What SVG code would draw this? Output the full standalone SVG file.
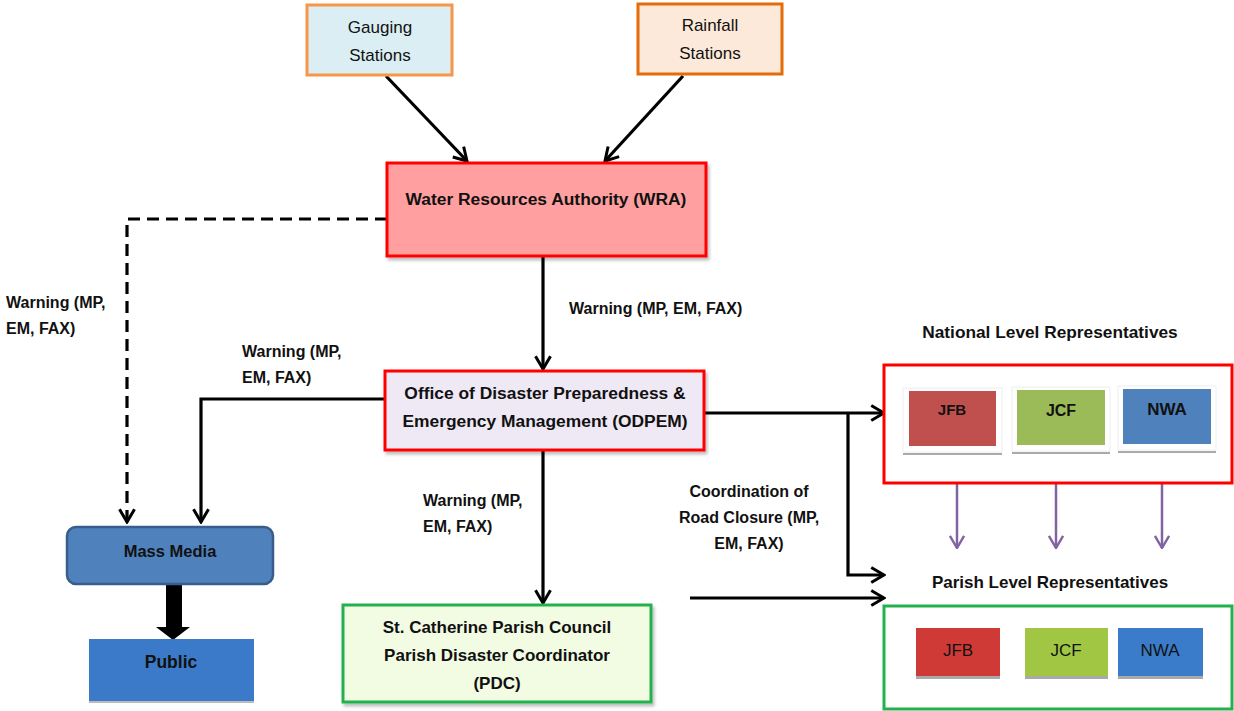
<svg xmlns="http://www.w3.org/2000/svg" width="1234" height="711" viewBox="0 0 1234 711">
<style>
text{font-family:"Liberation Sans",Arial,sans-serif;fill:#111;}
.b{font-weight:bold;}
.c{text-anchor:middle;}
.lb{font-weight:bold;font-size:16px;}
.ln{fill:none;stroke:#000;stroke-width:3.2;}
.pl{fill:none;stroke:#8064a2;stroke-width:2.5;}
</style>
<defs>
<marker id="ah" viewBox="0 0 12 12" refX="11" refY="6" markerWidth="18" markerHeight="18" orient="auto" markerUnits="userSpaceOnUse">
<path d="M2.5,1 L11,6 L2.5,11" fill="none" stroke="#000" stroke-width="2"/>
</marker>
<marker id="ahp" viewBox="0 0 12 12" refX="11" refY="6" markerWidth="17" markerHeight="17" orient="auto" markerUnits="userSpaceOnUse">
<path d="M2.5,1 L11,6 L2.5,11" fill="none" stroke="#8064a2" stroke-width="1.7"/>
</marker>
<filter id="sh" x="-5%" y="-5%" width="115%" height="120%">
<feDropShadow dx="2" dy="3" stdDeviation="1.5" flood-color="#000" flood-opacity="0.25"/>
</filter>
</defs>
<rect width="1234" height="711" fill="#fff"/>

<g id="connectors">
<line class="ln" x1="386" y1="76" x2="467" y2="161" marker-end="url(#ah)"/>
<line class="ln" x1="683" y1="76" x2="605" y2="161" marker-end="url(#ah)"/>
<polyline class="ln" points="387,219 127,219 127,522" stroke-dasharray="12,7" marker-end="url(#ah)"/>
<line class="ln" x1="543" y1="257" x2="543" y2="369" marker-end="url(#ah)"/>
<polyline class="ln" points="385,399 201,399 201,522" marker-end="url(#ah)"/>
<line class="ln" x1="543" y1="451" x2="543" y2="603" marker-end="url(#ah)"/>
<line class="ln" x1="704" y1="413" x2="884" y2="413" marker-end="url(#ah)"/>
<polyline class="ln" points="848,413 848,575 884,575" marker-end="url(#ah)"/>
<line class="ln" x1="690" y1="598" x2="884" y2="598" marker-end="url(#ah)"/>
<line class="pl" x1="957" y1="484" x2="957" y2="548" marker-end="url(#ahp)"/>
<line class="pl" x1="1056" y1="484" x2="1056" y2="548" marker-end="url(#ahp)"/>
<line class="pl" x1="1162" y1="484" x2="1162" y2="548" marker-end="url(#ahp)"/>
<polygon points="166,585 182,585 182,627 190,627 173,640 156,627 166,627" fill="#000"/>
<text class="lb" x="6" y="308">Warning (MP,</text>
<text class="lb" x="6" y="334">EM, FAX)</text>
<text class="lb" x="242" y="357">Warning (MP,</text>
<text class="lb" x="242" y="383">EM, FAX)</text>
<text class="lb" x="569" y="314">Warning (MP, EM, FAX)</text>
<text class="lb" x="423" y="506">Warning (MP,</text>
<text class="lb" x="423" y="532">EM, FAX)</text>
<text class="lb c" x="749" y="497">Coordination of</text>
<text class="lb c" x="749" y="523">Road Closure (MP,</text>
<text class="lb c" x="749" y="549">EM, FAX)</text>
</g>

<g id="gauging">
<rect x="307" y="5" width="145" height="70" fill="#daeef3" stroke="#f79646" stroke-width="3"/>
<text class="c" x="380" y="33" font-size="17">Gauging</text>
<text class="c" x="380" y="61" font-size="17">Stations</text>
</g>
<g id="rainfall">
<rect x="638" y="4" width="144" height="70" fill="#fde9d9" stroke="#e46c0a" stroke-width="3"/>
<text class="c" x="710" y="31" font-size="17">Rainfall</text>
<text class="c" x="710" y="59" font-size="17">Stations</text>
</g>
<g id="wra">
<rect x="387" y="163" width="319" height="93" fill="#ff9f9f" stroke="#ff0000" stroke-width="3" filter="url(#sh)"/>
<text class="b c" x="546" y="205" font-size="17.4">Water Resources Authority (WRA)</text>
</g>
<g id="odpem">
<rect x="385" y="371" width="319" height="79" fill="#efe8f5" stroke="#ff0000" stroke-width="3" filter="url(#sh)"/>
<text class="b c" x="545" y="399" font-size="17.4">Office of Disaster Preparedness &amp;</text>
<text class="b c" x="545" y="427" font-size="17.4">Emergency Management (ODPEM)</text>
</g>
<g id="pdc">
<rect x="343" y="605" width="308" height="97" fill="#f2fce3" stroke="#22b14c" stroke-width="3" filter="url(#sh)"/>
<text class="b c" x="497" y="633" font-size="17">St. Catherine Parish Council</text>
<text class="b c" x="497" y="661" font-size="17">Parish Disaster Coordinator</text>
<text class="b c" x="497" y="689" font-size="17">(PDC)</text>
</g>
<g id="mass-media">
<rect x="67" y="527" width="206" height="57" rx="9" fill="#4f81bd" stroke="#385d8a" stroke-width="2.5"/>
<text class="b c" x="170" y="557" font-size="16.5">Mass Media</text>
</g>
<g id="public">
<rect x="89" y="641" width="165" height="62" fill="#bbb"/>
<rect x="89" y="639" width="165" height="62" fill="#3a7ac8"/>
<text class="b c" x="171" y="668" font-size="17.5">Public</text>
</g>
<g id="national">
<text class="b c" x="1050" y="338" font-size="17.3">National Level Representatives</text>
<rect x="884" y="365" width="348" height="118" fill="#fff" stroke="#ff0000" stroke-width="3"/>
<g id="nat-jfb">
<rect x="903" y="388" width="99" height="64" fill="#fff" stroke="#eee"/>
<line x1="903" y1="454" x2="1002" y2="454" stroke="#aaa" stroke-width="2"/>
<rect x="909" y="391" width="87" height="55" fill="#c0504d"/>
<text class="b c" x="952" y="415" font-size="15">JFB</text>
</g>
<g id="nat-jcf">
<rect x="1012" y="387" width="98" height="64" fill="#fff" stroke="#eee"/>
<line x1="1012" y1="453" x2="1110" y2="453" stroke="#aaa" stroke-width="2"/>
<rect x="1017" y="390" width="88" height="55" fill="#9bbb59"/>
<text class="b c" x="1061" y="416" font-size="16">JCF</text>
</g>
<g id="nat-nwa">
<rect x="1118" y="386" width="98" height="64" fill="#fff" stroke="#eee"/>
<line x1="1118" y1="452" x2="1216" y2="452" stroke="#aaa" stroke-width="2"/>
<rect x="1123" y="389" width="88" height="55" fill="#4f81bd"/>
<text class="b c" x="1167" y="415" font-size="17">NWA</text>
</g>
</g>
<g id="parish">
<text class="b c" x="1050" y="588" font-size="17">Parish Level Representatives</text>
<rect x="884" y="606" width="348" height="103" fill="#fff" stroke="#22b14c" stroke-width="3"/>
<g id="par-jfb">
<rect x="916" y="631" width="84" height="48" fill="#aaa"/>
<rect x="916" y="628" width="84" height="48" fill="#d03a36"/>
<text class="c" x="958" y="656" font-size="17">JFB</text>
</g>
<g id="par-jcf">
<rect x="1025" y="631" width="83" height="48" fill="#aaa"/>
<rect x="1025" y="628" width="83" height="48" fill="#a0c644"/>
<text class="c" x="1066" y="656" font-size="17">JCF</text>
</g>
<g id="par-nwa">
<rect x="1118" y="631" width="85" height="48" fill="#aaa"/>
<rect x="1118" y="628" width="85" height="48" fill="#3a7cc9"/>
<text class="c" x="1160" y="656" font-size="17">NWA</text>
</g>
</g>
</svg>
